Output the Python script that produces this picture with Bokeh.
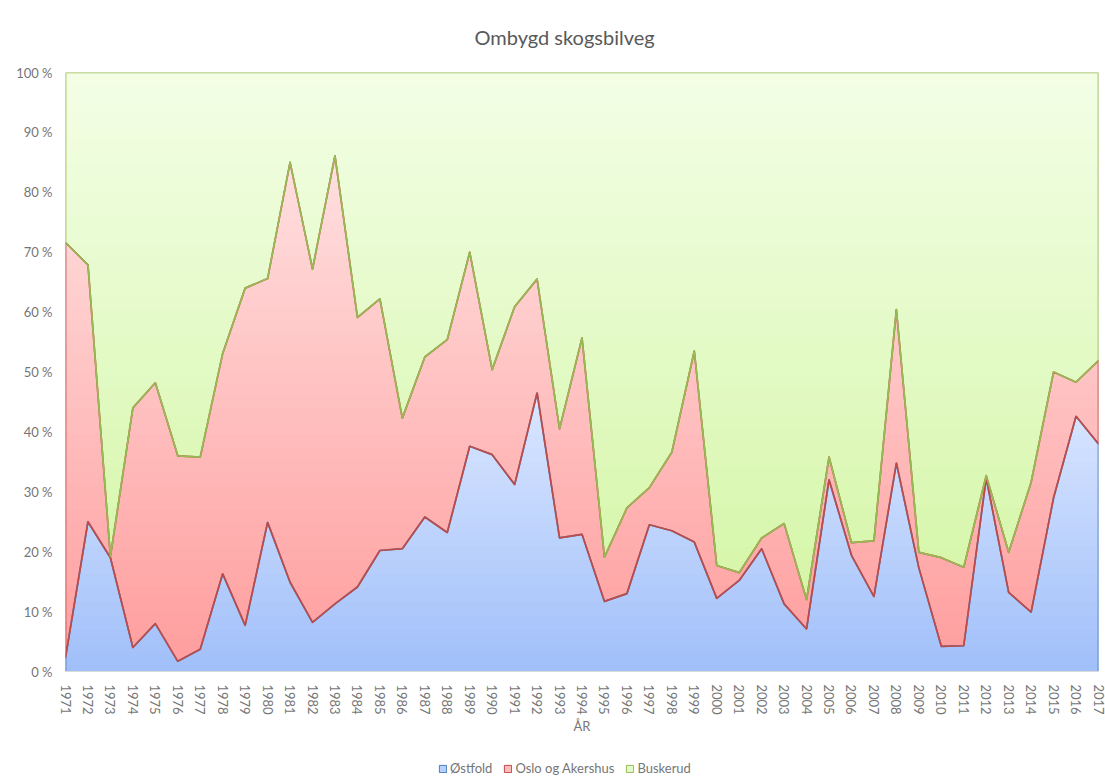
import numpy as np
from bokeh.plotting import figure
from bokeh.layouts import column
from bokeh.models import (Range1d, FixedTicker, CustomJSTickFormatter, Legend, LegendItem,
                          ColumnDataSource, Title)
from bokeh.embed import file_html
from bokeh.resources import INLINE

# ---- data (share in percent) ----
years = list(range(1971, 2018))
ostfold = [2.3, 25.0, 19.0, 4.0, 8.0, 1.7, 3.7, 16.3, 7.7, 24.9,
           14.9, 8.2, 11.3, 14.1, 20.2, 20.5, 25.8, 23.2, 37.6, 36.2,
           31.2, 46.5, 22.3, 22.9, 11.7, 13.0, 24.5, 23.5, 21.6, 12.2,
           15.2, 20.5, 11.3, 7.1, 32.0, 19.4, 12.5, 34.8, 17.3, 4.2,
           4.3, 32.3, 13.2, 9.9, 29.0, 42.6, 38.0]
oslo_akershus = [69.3, 42.9, 0.2, 40.0, 40.2, 34.3, 32.1, 36.8, 56.3, 40.7,
                 70.1, 59.0, 74.8, 45.0, 42.0, 21.8, 26.7, 32.2, 32.4, 14.2,
                 29.7, 19.0, 18.2, 32.8, 7.4, 14.3, 6.2, 13.1, 31.9, 5.5,
                 1.3, 1.8, 13.4, 4.9, 3.8, 2.1, 9.3, 25.6, 2.6, 14.8,
                 13.1, 0.4, 6.7, 21.7, 21.0, 5.7, 13.9]
buskerud = [28.4, 32.1, 80.8, 56.0, 51.8, 64.0, 64.2, 46.9, 36.0, 34.4,
            15.0, 32.8, 13.9, 40.9, 37.8, 57.7, 47.5, 44.6, 30.0, 49.6,
            39.1, 34.5, 59.5, 44.3, 80.9, 72.7, 69.3, 63.4, 46.5, 82.3,
            83.5, 77.7, 75.3, 88.0, 64.2, 78.5, 78.2, 39.6, 80.1, 81.0,
            82.6, 67.3, 80.1, 68.4, 50.0, 51.7, 48.1]
series_names = ["Østfold", "Oslo og Akershus", "Buskerud"]
y_ticks = [0, 10, 20, 30, 40, 50, 60, 70, 80, 90, 100]

# ---- styles ----
line_colors = ["#4a7ebb", "#be4b48", "#98b954"]
grad_bottom = ["#a0bff9", "#ff9e9e", "#d5f6a8"]
grad_top = ["#dbe7ff", "#ffe0e0", "#f3fee6"]
legend_fill = ["#b9d0fc", "#ffbcbc", "#e3fac4"]
FONT = "Lato"
GRAY = "#767676"


def hex2rgb(h):
    h = h.lstrip("#")
    return np.array([int(h[i:i + 2], 16) for i in (0, 2, 4)], dtype=float)


def mix(c0, c1, t):
    c = hex2rgb(c0) * (1 - t) + hex2rgb(c1) * t
    return "#%02x%02x%02x" % tuple(int(round(v)) for v in c)


def crossings(xs, f, c):
    out = []
    for i in range(len(xs) - 1):
        a, b = f[i] - c, f[i + 1] - c
        if a * b < 0:
            out.append(xs[i] + (xs[i + 1] - xs[i]) * a / (a - b))
    return out


xs = np.array(years, dtype=float)
vals = np.array([ostfold, oslo_akershus, buskerud], dtype=float)
totals = vals.sum(axis=0)
shares = vals / totals * 100.0
cum = np.vstack([np.zeros(len(xs)), np.cumsum(shares, axis=0)])

p = figure(frame_width=1033, frame_height=599,
           min_border_left=65, min_border_right=7, min_border_top=72, min_border_bottom=70,
           x_range=Range1d(1971, 2017), y_range=Range1d(0, 100),
           output_backend="svg", toolbar_location=None)
p.outline_line_color = None
p.background_fill_color = "white"
p.xgrid.visible = False
p.ygrid.visible = False

# spacer between frame and title, then the title itself
spacer = Title(text=" ", text_font_size="6.5px", text_color="white")
p.add_layout(spacer, "above")
title = Title(text="Ombygd skogsbilveg", text_font=FONT, text_font_size="20px",
              text_font_style="normal", text_color="#595959", align="left", offset=409)
p.add_layout(title, "above")

# gradient-filled stacked areas (horizontal bands per series)
NB = 40
EPS = 0.3
for s in range(3):
    L = cum[s]
    U = cum[s + 1]
    lo, hi = L.min(), U.max()
    edges = np.linspace(lo, hi, NB + 1)
    for k in range(NB):
        a = edges[k]
        b = min(edges[k + 1] + EPS, hi)
        xb = set(xs.tolist())
        for c in (a, b):
            xb.update(crossings(xs, L, c))
            xb.update(crossings(xs, U, c))
        xb = np.array(sorted(xb))
        Lb = np.clip(np.interp(xb, xs, L), a, b)
        Ub = np.clip(np.interp(xb, xs, U), a, b)
        t = (k + 0.5) / NB
        p.varea(x=xb, y1=Lb, y2=Ub, fill_color=mix(grad_bottom[s], grad_top[s], t),
                fill_alpha=1.0)

# outlines of each area series
x_fwd = xs
x_back = xs[::-1]
bx = np.concatenate([[xs[0]], x_fwd, [xs[-1]]])
by = np.concatenate([[0.0], cum[1], [0.0]])
p.line(bx, by, line_color=line_colors[0], line_width=1.7)
for s in (1, 2):
    ox = np.concatenate([x_fwd, x_back, [xs[0]]])
    oy = np.concatenate([cum[s + 1], cum[s][::-1], [cum[s + 1][0]]])
    p.line(ox, oy, line_color=line_colors[s], line_width=1.7, line_join="round")

# axes
p.xaxis.ticker = FixedTicker(ticks=years)
p.xaxis.major_label_orientation = "vertical"
p.xaxis.major_tick_line_color = None
p.xaxis.minor_tick_line_color = None
p.xaxis.axis_line_color = "#d9d9d9"
p.xaxis.major_label_text_font = FONT
p.xaxis.major_label_text_font_size = "13px"
p.xaxis.major_label_text_color = GRAY
p.xaxis.major_label_standoff = 7
p.xaxis.axis_label = "ÅR"
p.xaxis.axis_label_text_font = FONT
p.xaxis.axis_label_text_font_size = "13px"
p.xaxis.axis_label_text_font_style = "normal"
p.xaxis.axis_label_text_color = GRAY
p.xaxis.axis_label_standoff = 0

p.yaxis.ticker = FixedTicker(ticks=y_ticks)
p.yaxis.formatter = CustomJSTickFormatter(code="return tick.toFixed(0) + ' %';")
p.yaxis.axis_line_color = None
p.yaxis.major_tick_line_color = None
p.yaxis.minor_tick_line_color = None
p.yaxis.major_label_text_font = FONT
p.yaxis.major_label_text_font_size = "13px"
p.yaxis.major_label_text_color = GRAY
p.yaxis.major_label_standoff = 7

# legend strip below the chart (proxy swatches with NaN geometry)
lg = figure(frame_width=1105, frame_height=40, min_border=0,
            x_range=Range1d(0, 1), y_range=Range1d(0, 1),
            x_axis_type=None, y_axis_type=None,
            output_backend="svg", toolbar_location=None)
lg.outline_line_color = None
lg.xgrid.visible = False
lg.ygrid.visible = False
items = []
for s in range(3):
    src = ColumnDataSource(dict(l=[np.nan], r=[np.nan], t=[np.nan], b=[np.nan]))
    r = lg.quad(left="l", right="r", top="t", bottom="b", source=src,
                fill_color=legend_fill[s], line_color=line_colors[s], line_width=1)
    items.append(LegendItem(label=series_names[s], renderers=[r]))
legend = Legend(items=items, orientation="horizontal", location=(438, 5),
                glyph_width=9, glyph_height=9, label_standoff=3, spacing=11,
                padding=0, margin=0, border_line_color=None, background_fill_alpha=0,
                label_text_font=FONT, label_text_font_size="13px", label_text_color=GRAY)
lg.add_layout(legend, "center")

layout = column(p, lg, spacing=0)
open("out.html", "w").write(file_html(layout, INLINE))
